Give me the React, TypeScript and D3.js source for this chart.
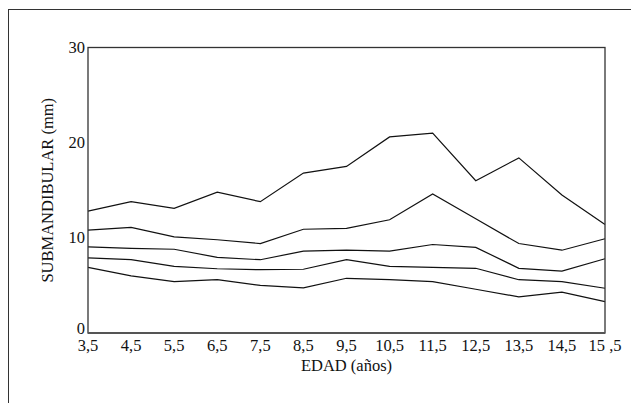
import React from "react";
import * as d3 from "d3";

const ages = [3.5, 4.5, 5.5, 6.5, 7.5, 8.5, 9.5, 10.5, 11.5, 12.5, 13.5, 14.5, 15.5];
const ageLabels = ["3,5", "4,5", "5,5", "6,5", "7,5", "8,5", "9,5", "10,5", "11,5", "12,5", "13,5", "14,5", "15 ,5"];
const yTicks = [0, 10, 20, 30];

const serie1 = [12.8, 13.8, 13.1, 14.8, 13.8, 16.8, 17.5, 20.6, 21.0, 16.0, 18.4, 14.5, 11.4];
const serie2 = [10.8, 11.1, 10.1, 9.8, 9.4, 10.9, 11.0, 11.9, 14.6, 12.0, 9.4, 8.7, 9.9];
const serie3 = [9.05, 8.9, 8.8, 7.95, 7.7, 8.6, 8.7, 8.6, 9.3, 9.0, 6.8, 6.5, 7.8];
const serie4 = [7.9, 7.7, 7.0, 6.75, 6.65, 6.7, 7.7, 7.0, 6.9, 6.8, 5.6, 5.4, 4.7];
const serie5 = [6.9, 6.0, 5.4, 5.6, 5.0, 4.75, 5.75, 5.6, 5.4, 4.6, 3.8, 4.3, 3.3];

const series = [serie1, serie2, serie3, serie4, serie5];

const App = () => {
  const width = 631,
    height = 395;
  const left = 80,
    right = 597,
    top = 39.5,
    bottom = 325;

  const x = d3.scaleLinear().domain([3.5, 15.5]).range([left, right]);
  const y = d3.scaleLinear().domain([0, 30]).range([bottom, top]);

  const line = d3
    .line<number>()
    .x((d, i) => x(ages[i]))
    .y((d) => y(d));

  const txt: React.CSSProperties = {
    fontFamily: "Liberation Serif, DejaVu Serif, serif",
    fontSize: "16.5px",
    fill: "#111",
  };

  return (
    <svg width={width} height={height} style={{ display: "block" }}>
      {/* outer frame, runs off the right and bottom */}
      <rect x={0.5} y={1.5} width={width + 20} height={height + 20} fill="white" stroke="#333" strokeWidth={1} />

      {series.map((s, i) => (
        <path key={i} d={line(s) || ""} fill="none" stroke="#111" strokeWidth={1.2} />
      ))}

      <rect
        x={left}
        y={top}
        width={right - left}
        height={bottom - top}
        fill="none"
        stroke="#333"
        strokeWidth={1.3}
      />
      <line x1={left} x2={right} y1={bottom} y2={bottom} stroke="#555" strokeWidth={2} />

      {yTicks.map((t) => (
        <text key={t} x={left - 3} y={y(t) + (t === 0 ? 1 : 5)} textAnchor="end" style={txt}>
          {t}
        </text>
      ))}

      {ages.map((a, i) => (
        <text key={a} x={x(a)} y={bottom + 18} textAnchor="middle" style={txt}>
          {ageLabels[i]}
        </text>
      ))}

      <text x={(left + right) / 2} y={bottom + 38} textAnchor="middle" style={txt}>
        EDAD (años)
      </text>

      <text
        transform={`translate(45, ${(top + bottom) / 2}) rotate(-90)`}
        textAnchor="middle"
        style={txt}
      >
        SUBMANDIBULAR (mm)
      </text>
    </svg>
  );
};

export default App;
